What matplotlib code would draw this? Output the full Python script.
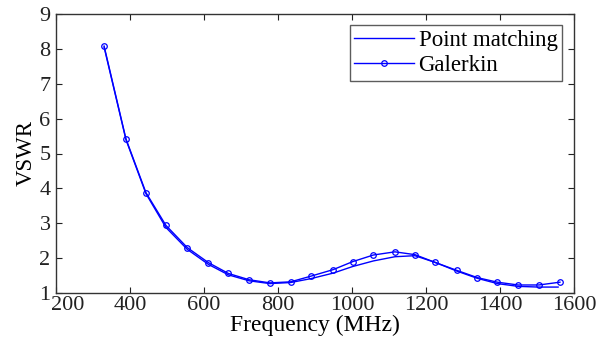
import matplotlib
matplotlib.use("Agg")
import matplotlib.pyplot as plt
import matplotlib.transforms as mtransforms

freq_g = [330, 389, 443, 497, 555, 612, 666, 722, 778, 834, 888, 949, 1002,
          1058, 1116, 1170, 1224, 1283, 1339, 1393, 1449, 1505, 1562]
vswr_g = [8.08, 5.42, 3.88, 2.94, 2.30, 1.87, 1.56, 1.38, 1.29, 1.32, 1.48,
          1.67, 1.90, 2.09, 2.18, 2.10, 1.88, 1.65, 1.44, 1.31, 1.23, 1.23, 1.31]
freq_p = [330, 389, 443, 497, 555, 612, 666, 722, 778, 834, 888, 949, 1002,
          1058, 1116, 1170, 1224, 1283, 1339, 1393, 1449, 1505, 1557]
vswr_p = [8.05, 5.40, 3.85, 2.88, 2.25, 1.82, 1.52, 1.35, 1.27, 1.30, 1.41,
          1.57, 1.76, 1.92, 2.04, 2.07, 1.88, 1.63, 1.42, 1.27, 1.19, 1.17, 1.17]

xticks = [200, 400, 600, 800, 1000, 1200, 1400, 1600]
yticks = [1, 2, 3, 4, 5, 6, 7, 8, 9]

plt.rcParams['font.family'] = ['Liberation Serif', 'DejaVu Serif']
fig = plt.figure(figsize=(6.08, 3.46), dpi=100)
ax = fig.add_axes([56/608, 1 - 293/346, (574-56)/608, (293-14)/346])

ax.plot(freq_p, vswr_p, color='#0000ff', lw=1.0, label='Point matching')
ax.plot(freq_g, vswr_g, color='#0000ff', lw=1.0, marker='o', ms=4,
        mfc='none', mec='#0000ff', mew=0.9, label='Galerkin')

ax.set_xlim(200, 1600)
ax.set_ylim(1, 9)
ax.set_xticks(xticks)
ax.set_yticks(yticks)
ax.tick_params(direction='in', top=True, right=True, length=4, width=0.8,
               labelsize=16, colors='#222222')
ax.tick_params(axis='x', pad=2)
ax.tick_params(axis='y', pad=4)
for s in ax.spines.values():
    s.set_color('#333333')
    s.set_linewidth(1.0)
ax.set_xlabel('Frequency (MHz)', fontsize=17, labelpad=0)
ax.set_ylabel('VSWR', fontsize=16.5, labelpad=2)

# first x tick label sits slightly right of its tick, as in the reference
first = ax.get_xticklabels()[0]
first.set_transform(first.get_transform() +
                    mtransforms.ScaledTranslation(12/100, 0, fig.dpi_scale_trans))

leg = ax.legend(loc='upper right', bbox_to_anchor=(1 - 12/518, 1 - 11/279),
                fontsize=16.5, frameon=True, fancybox=False, borderpad=0.2,
                handlelength=2.6, handletextpad=0.2, labelspacing=0.2,
                borderaxespad=0)
leg.get_frame().set_edgecolor('#333333')
leg.get_frame().set_linewidth(1.0)

fig.savefig('out.png', dpi=100)
